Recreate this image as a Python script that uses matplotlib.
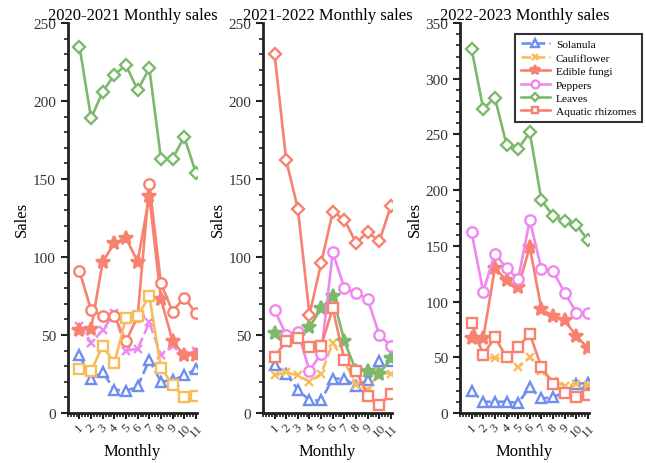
import matplotlib
matplotlib.use("Agg")
import matplotlib.pyplot as plt
from matplotlib.ticker import MultipleLocator

plt.rcParams['font.family'] = ['Liberation Serif', 'DejaVu Serif']

months = list(range(1, 12))
month_labels = [str(m) for m in months]
series_names = ["Solanula", "Cauliflower", "Edible fungi", "Peppers", "Leaves", "Aquatic rhizomes"]
titles = ["2020-2021 Monthly sales", "2021-2022 Monthly sales", "2022-2023 Monthly sales"]

# 2020-2021
solanula_1 = [37, 22, 26, 15, 14, 17, 34, 20, 21, 24, 28]
cauliflower_1 = [56, 45, 53, 64, 40, 41, 58, 37, 43, 37, 40]
fungi_1 = [53, 54, 97, 109, 112, 97, 139, 73, 46, 37, 37]
peppers_1 = [91, 66, 62, 62, 46, 62, 147, 83, 65, 74, 64]
leaves_1 = [235, 189, 206, 217, 223, 207, 221, 163, 163, 177, 154]
aquatic_1 = [28, 27, 43, 32, 61, 62, 75, 29, 18, 10, 11]

# 2021-2022
solanula_2 = [31, 25, 15, 8, 8, 22, 22, 17, 21, 33, 33]
cauliflower_2 = [24, 26, 24, 20, 25, 45, 33, 18, 15, 26, 25]
fungi_2 = [51, 46, 49, 55, 67, 75, 46, 27, 27, 25, 35]
peppers_2 = [66, 50, 52, 27, 38, 103, 80, 77, 73, 50, 43]
leaves_2 = [230, 162, 131, 63, 96, 129, 124, 109, 116, 110, 133]
aquatic_2 = [36, 46, 48, 42, 43, 67, 34, 27, 11, 5, 12]

# 2022-2023
solanula_3 = [20, 10, 10, 10, 9, 23, 13, 14, 19, 26, 27]
cauliflower_3 = [80, 50, 49, 49, 41, 50, 38, 29, 24, 26, 25]
fungi_3 = [67, 67, 130, 119, 113, 149, 93, 87, 83, 69, 58]
peppers_3 = [162, 109, 143, 130, 120, 173, 129, 127, 108, 90, 90]
leaves_3 = [327, 273, 283, 241, 237, 252, 191, 177, 172, 169, 155]
aquatic_3 = [81, 52, 68, 50, 59, 71, 41, 26, 18, 14, 16]

panels = [
    [solanula_1, cauliflower_1, fungi_1, peppers_1, leaves_1, aquatic_1],
    [solanula_2, cauliflower_2, fungi_2, peppers_2, leaves_2, aquatic_2],
    [solanula_3, cauliflower_3, fungi_3, peppers_3, leaves_3, aquatic_3],
]
ymax = [250, 250, 350]

BLUE = "#6f8ff0"
ORANGE = "#f7bd5c"
SALMON = "#f7826f"
PINK = "#ef88ef"
GREEN = "#7db96c"

colors = [
    [BLUE, PINK, SALMON, SALMON, GREEN, ORANGE],
    [BLUE, ORANGE, GREEN, PINK, SALMON, SALMON],
    [BLUE, ORANGE, SALMON, PINK, GREEN, SALMON],
]
markers = ["^", "x", "*", "o", "D", "s"]
linestyles = ["--", "--", "-", "-", "-", "-"]
msizes = [7.5, 5.5, 10, 7.5, 6, 6.5]
open_marker = [True, False, False, True, True, True]

fig = plt.figure(figsize=(6.46, 4.64), dpi=100)
lefts = [0.105, 0.407, 0.712]
axes = []
for i in range(3):
    ax = fig.add_axes([lefts[i], 0.108, 0.2, 0.84])
    axes.append(ax)
    for j in range(6):
        kw = dict(color=colors[i][j], marker=markers[j], linestyle=linestyles[j],
                  linewidth=1.9, markersize=msizes[j], markeredgewidth=1.7,
                  label=series_names[j])
        if open_marker[j]:
            kw['markerfacecolor'] = 'white'
        ax.plot(months, panels[i][j], **kw)
    ax.set_xlim(0, 11.1)
    ax.set_ylim(0, ymax[i])
    ax.yaxis.set_major_locator(MultipleLocator(50))
    ax.yaxis.set_minor_locator(MultipleLocator(10))
    ax.xaxis.set_minor_locator(MultipleLocator(0.25))
    ax.set_xticks(months)
    ax.set_xticklabels(month_labels, rotation=45, fontsize=9.5)
    ax.tick_params(axis='y', labelsize=11, width=1.5, length=5, color='#222222', labelcolor='#333333')
    ax.tick_params(axis='x', width=1.5, length=4, color='#222222', labelcolor='#333333', pad=2)
    ax.tick_params(which='minor', width=1.2, length=3, color='#222222')
    for s in ['top', 'right']:
        ax.spines[s].set_visible(False)
    for s in ['left', 'bottom']:
        ax.spines[s].set_linewidth(2)
        ax.spines[s].set_color('#222222')
    ax.set_title(titles[i], fontsize=12, pad=2)
    ax.set_xlabel("Monthly", fontsize=12, labelpad=3)
    ax.set_ylabel("Sales", fontsize=12, labelpad=2)

leg = axes[2].legend(loc='upper left', bbox_to_anchor=(0.797, 0.925), bbox_transform=fig.transFigure,
                     fontsize=8.2, frameon=True, fancybox=False, edgecolor='black',
                     handlelength=2.6, labelspacing=0.3, borderpad=0.5, handletextpad=0.5,
                     borderaxespad=0, markerscale=0.75)
leg.get_frame().set_linewidth(1.5)

fig.savefig("out.png", dpi=100)
